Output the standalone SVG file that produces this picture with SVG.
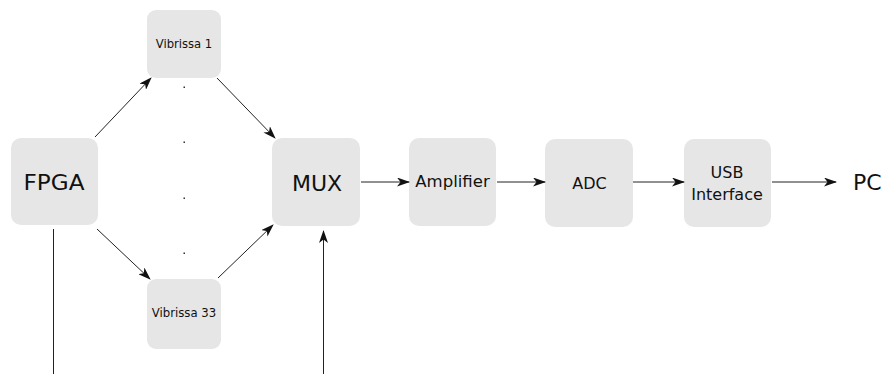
<svg xmlns="http://www.w3.org/2000/svg" width="882" height="374" viewBox="0 0 882 374">
<defs>
<marker id="ah" markerWidth="13" markerHeight="9" refX="12" refY="4.5" orient="auto" markerUnits="userSpaceOnUse">
<path d="M0,0 L13,4.5 L0,9 L3.5,4.5 Z" fill="#111"/>
</marker>
<style>
.box{fill:#e6e6e6;}
.t{font-family:"DejaVu Sans",sans-serif;fill:#111;text-anchor:middle;}
.c{stroke:#222;stroke-width:1;fill:none;}
</style>
</defs>
<rect width="882" height="374" fill="#fff"/>
<g id="fpga"><rect class="box" x="11" y="138" width="87" height="87" rx="10"/><text class="t" x="54" y="190" font-size="22" textLength="61" lengthAdjust="spacingAndGlyphs">FPGA</text></g>
<g id="vib1"><rect class="box" x="147" y="10" width="74" height="68" rx="9"/><text class="t" x="184" y="48" font-size="11.6">Vibrissa 1</text></g>
<g id="vib33"><rect class="box" x="147" y="279" width="74" height="70" rx="9"/><text class="t" x="184" y="317" font-size="11.7">Vibrissa 33</text></g>
<g id="mux"><rect class="box" x="272" y="138" width="88" height="88" rx="10"/><text class="t" x="317" y="191" font-size="22">MUX</text></g>
<g id="amp"><rect class="box" x="409" y="138" width="87" height="88" rx="10"/><text class="t" x="452.5" y="187" font-size="16.5">Amplifier</text></g>
<g id="adc"><rect class="box" x="545" y="139" width="88" height="88" rx="10"/><text class="t" x="589.5" y="189" font-size="16">ADC</text></g>
<g id="usb"><rect class="box" x="684" y="139" width="87" height="88" rx="10"/><text class="t" x="727" y="178" font-size="16">USB</text><text class="t" x="727" y="200" font-size="16">Interface</text></g>
<g id="pc"><text x="853" y="190" font-size="22" font-family="DejaVu Sans, sans-serif" fill="#111">PC</text></g>
<g id="dots" fill="#333"><rect x="183.5" y="86.5" width="1.5" height="1.5"/><rect x="183.5" y="141.5" width="1.5" height="1.5"/><rect x="183.5" y="197.5" width="1.5" height="1.5"/><rect x="183.5" y="252.5" width="1.5" height="1.5"/></g>
<g id="connectors">
<line class="c" x1="95" y1="137" x2="151" y2="78" marker-end="url(#ah)"/>
<line class="c" x1="217" y1="78" x2="275" y2="138" marker-end="url(#ah)"/>
<line class="c" x1="97" y1="229" x2="150" y2="279" marker-end="url(#ah)"/>
<line class="c" x1="218" y1="278" x2="273" y2="225" marker-end="url(#ah)"/>
<line class="c" x1="361" y1="182" x2="409" y2="182" marker-end="url(#ah)"/>
<line class="c" x1="497" y1="182" x2="545" y2="182" marker-end="url(#ah)"/>
<line class="c" x1="633" y1="182" x2="684" y2="182" marker-end="url(#ah)"/>
<line class="c" x1="772" y1="182" x2="836" y2="182" marker-end="url(#ah)"/>
<line class="c" x1="53.5" y1="229" x2="53.5" y2="374" stroke="#666"/>
<line class="c" x1="323.5" y1="374" x2="323.5" y2="231" stroke="#666" marker-end="url(#ah)"/>
</g>
</svg>
